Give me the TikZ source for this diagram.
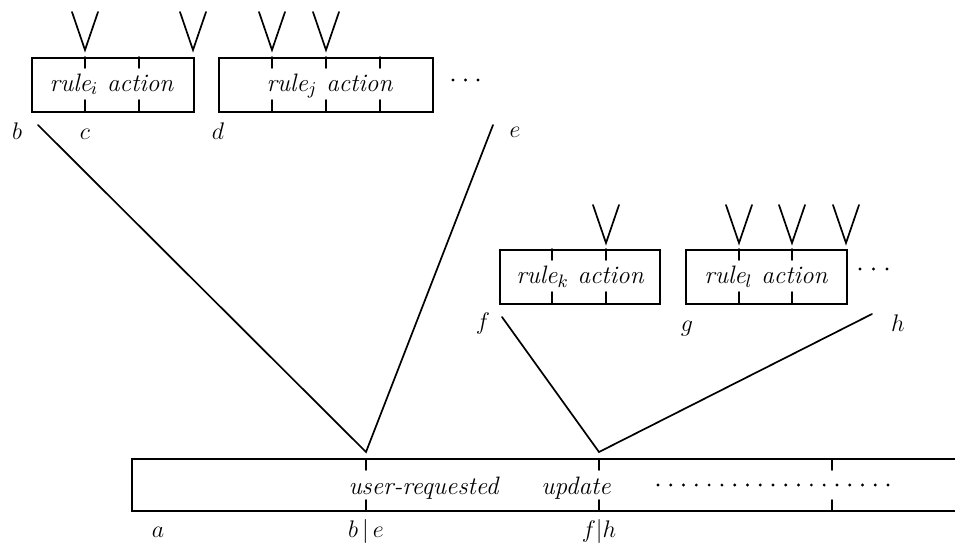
\documentclass[tikz,border=0pt]{standalone}
\begin{document}
\begin{tikzpicture}[x=0.5pt,y=-0.5pt,line width=0.85pt,line cap=round,line join=miter,
  rbox/.style={draw,rectangle,inner sep=0pt,anchor=north west,minimum height=27pt},
  txt/.style={font=\fontsize{12.6}{15}\selectfont\itshape,inner sep=0pt,anchor=base},
  lbl/.style={font=\fontsize{13}{15}\selectfont,inner sep=0pt,anchor=base},
  dotmark/.style={fill=black,draw=none}]
\useasboundingbox (0,0) rectangle (955,543);

% ---- top boxes ----
\node[rbox,minimum width=81pt] (boxi) at (31,57) {};
\node[rbox,minimum width=107pt] (boxj) at (218,57) {};
\foreach \x in {85,139,272,326,380}
  \draw (\x,57) -- ++(0,11) (\x,111) -- ++(0,-11);
\foreach \x in {85,193,272,326}
  \draw (\x-13,12) -- (\x,50) -- (\x+13,12);
\node[txt] (ti) at (111.5,91) {rule$_i$ action};
\node[txt] (tj) at (329.5,91) {rule$_j$ action};
\foreach \x in {453,465.5,478} \fill[dotmark] (\x,80) circle (1.6);

% ---- right boxes ----
\node[rbox,minimum width=80pt] (boxk) at (499,249) {};
\node[rbox,minimum width=80.5pt] (boxl) at (685,249) {};
\foreach \x in {552,606,739,792}
  \draw (\x,249) -- ++(0,11) (\x,303) -- ++(0,-11);
\foreach \x in {606,739,792,846}
  \draw (\x-13,205) -- (\x,243) -- (\x+13,205);
\node[txt] (tk) at (580,283) {rule$_k$ action};
\node[txt] (tl) at (766,283) {rule$_l$ action};
\foreach \x in {860,873.5,887} \fill[dotmark] (\x,269) circle (1.6);

% ---- bottom bar ----
\draw (955,459) -- (132,459) -- (132,511) -- (955,511);
\foreach \x in {366,599,832}
  \draw (\x,459) -- ++(0,11) (\x,511) -- ++(0,-11);
\node[txt] (tu) at (423.5,494) {user-requested};
\node[txt] (tup) at (576,494) {update};
\foreach \i in {0,...,18} \fill[dotmark] (658+\i*12.78,485) circle (1.6);

% ---- labels ----
\node[lbl] (la) at (158,537) {$a$};
\node[lbl] (lb) at (17,139) {$b$};
\node[lbl] (lc) at (85,139) {$c$};
\node[lbl] (ld) at (218,139) {$d$};
\node[lbl] (le) at (515,137) {$e$};
\node[lbl] (lf) at (483,329) {$f$};
\node[lbl] (lg) at (687,331) {$g$};
\node[lbl] (lh) at (898,331) {$h$};
\node[lbl] (lbe) at (366,537) {$b\,|\,e$};
\node[lbl] (lfh) at (599,537) {$f|h$};

% ---- connectors ----
\coordinate (pb) at (38,125);
\coordinate (pe) at (493,125);
\coordinate (pf) at (502,317);
\coordinate (ph) at (872,314);
\coordinate (v1) at (366,452);
\coordinate (v2) at (599,452);
\draw (pb) -- (v1) -- (pe);
\draw (pf) -- (v2) -- (ph);
\end{tikzpicture}
\end{document}
